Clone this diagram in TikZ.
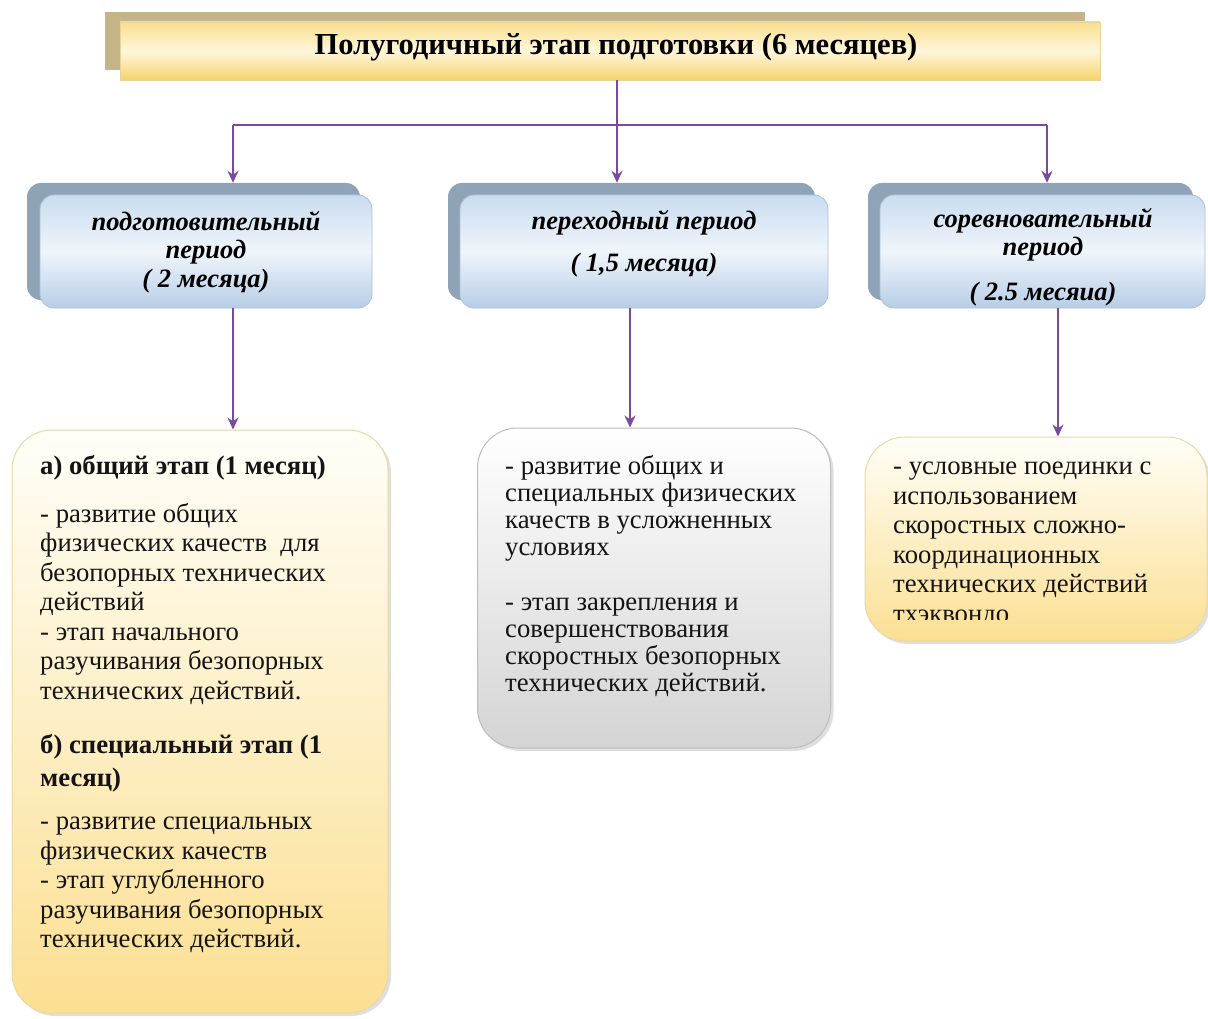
\documentclass[tikz,border=0pt]{standalone}
\usepackage{fontspec}
\setmainfont{Liberation Serif}
\usetikzlibrary{arrows.meta,shadows}
\definecolor{arrowc}{HTML}{7A4A9E}
\definecolor{titleback}{HTML}{C4B488}
\definecolor{titletop}{HTML}{F9DE8C}
\definecolor{titlemid}{HTML}{FFF7DC}
\definecolor{titlebot}{HTML}{F6D46C}
\definecolor{titleline}{HTML}{E6D49C}
\definecolor{perback}{HTML}{8FA3B6}
\definecolor{pertop}{HTML}{C9DCEF}
\definecolor{permid}{HTML}{F0F5FB}
\definecolor{perbot}{HTML}{B7CEE7}
\definecolor{perline}{HTML}{A9C0D7}
\definecolor{yeltop}{HTML}{FFFEF8}
\definecolor{yelbot}{HTML}{FBDF92}
\definecolor{yelline}{HTML}{E9D9A2}
\definecolor{graytop}{HTML}{FFFFFF}
\definecolor{graybot}{HTML}{D4D4D4}
\definecolor{grayline}{HTML}{BDBDBD}
\begin{document}
\begin{tikzpicture}[x=1pt,y=-1pt,
  conn/.style={draw=arrowc, line width=2.8pt},
  arr/.style={conn, -{Stealth[length=12pt,width=11pt]}},
  shadowbox/.style={fill=perback, rounded corners=14pt, inner sep=0pt},
  periodbox/.style={draw=perline, line width=0.8pt, rounded corners=14pt, inner sep=0pt,
     top color=pertop, bottom color=perbot, middle color=permid},
  periodtext/.style={font=\fontsize{26.5}{28.5}\selectfont\bfseries\itshape, align=center, inner sep=0pt, text=black},
  yelbox/.style={draw=yelline, line width=1pt, rounded corners=40pt, inner sep=0pt,
     top color=yeltop, bottom color=yelbot,
     drop shadow={shadow xshift=3pt, shadow yshift=-3pt, opacity=0.25, fill=black!50}},
  graybox/.style={draw=grayline, line width=1pt, rounded corners=40pt, inner sep=0pt,
     top color=graytop, bottom color=graybot,
     drop shadow={shadow xshift=3pt, shadow yshift=-3pt, opacity=0.25, fill=black!50}},
  body/.style={align=left, anchor=north west, inner sep=0pt, text=black!92},
]
\useasboundingbox (0,0) rectangle (1208,1019);
\fill[white] (0,0) rectangle (1208,1019);

% title
\node[fill=titleback, minimum width=980pt, minimum height=58pt, inner sep=0pt] (titleshadow) at (595,41) {};
\node[draw=titleline, line width=0.6pt, minimum width=980pt, minimum height=58pt, inner sep=0pt,
  top color=titletop, bottom color=titlebot, middle color=titlemid] (title) at (610,51) {};
\node[font=\fontsize{30.5}{32}\selectfont\bfseries, inner sep=0pt, text=black] (titletext) at (616,47) {Полугодичный этап подготовки (6 месяцев)};

% period boxes
\node[shadowbox, minimum width=333pt, minimum height=117pt] (p1s) at (193.5,241.5) {};
\node[periodbox, minimum width=332pt, minimum height=113pt] (p1) at (206,251.5) {};
\node[periodtext] (p1t) at (206,252) {подготовительный\\период\\( 2 месяца)};

\node[shadowbox, minimum width=367pt, minimum height=117pt] (p2s) at (631.5,241.5) {};
\node[periodbox, minimum width=368pt, minimum height=113pt] (p2) at (644,251.5) {};
\node[periodtext, font=\fontsize{26.5}{42}\selectfont\bfseries\itshape] (p2t) at (644,244) {переходный период\\( 1,5 месяца)};

\node[shadowbox, minimum width=325pt, minimum height=117pt] (p3s) at (1030.5,241.5) {};
\node[periodbox, minimum width=325pt, minimum height=113pt] (p3) at (1042.5,251.5) {};
\node[periodtext] (p3t) at (1043,257) {соревновательный\\период\\[16pt]( 2.5 месяиа)};

% lower boxes
\node[yelbox, minimum width=376pt, minimum height=583pt] (A) at (200,721.5) {};
\node[graybox, minimum width=353pt, minimum height=320pt] (B) at (654,588) {};
\node[yelbox, minimum width=342pt, minimum height=204pt] (C) at (1036,539) {};

\node[body, font=\fontsize{26.7}{29.5}\selectfont] (At) at (40,454) {%
\strut\textbf{а) общий этап (1 месяц)}\\[18pt]
- развитие общих\\
физических качеств\ \ для\\
безопорных технических\\
действий\\
- этап начального\\
разучивания безопорных\\
технических действий.\\[25pt]
\textbf{б) специальный этап (1}\\[3pt]
\textbf{месяц)}\\[14pt]
- развитие специальных\\
физических качеств\\
- этап углубленного\\
разучивания безопорных\\
технических действий.};

\node[body, font=\fontsize{26.7}{27.2}\selectfont] (Bt) at (505,455) {%
\strut- развитие общих и\\
специальных физических\\
качеств в усложненных\\
условиях\\[27.2pt]
- этап закрепления и\\
совершенствования\\
скоростных безопорных\\
технических действий.};

\begin{scope}
\clip (860,430) rectangle (1208,619);
\node[body, font=\fontsize{26.7}{29.5}\selectfont] (Ct) at (893,454) {%
\strut- условные поединки с\\
использованием\\
скоростных сложно-\\
координационных\\
технических действий\\
тхэквондо};
\end{scope}

% connectors
\coordinate (j) at (617,125);
\coordinate (jl) at (233,125);
\coordinate (jr) at (1047,125);
\draw[conn] (title.south -| j) -- (j);
\draw[conn] (jl) -- (jr);
\draw[arr] (jl) -- (jl |- p1s.north);
\draw[arr] (j) -- (j |- p2s.north);
\draw[arr] (jr) -- (jr |- p3s.north);

\coordinate (xa) at (233,0);
\coordinate (xb) at (630,0);
\coordinate (xc) at (1058,0);
\draw[arr] (p1.south -| xa) -- (A.north -| xa);
\draw[arr] (p2.south -| xb) -- (B.north -| xb);
\draw[arr] (p3.south -| xc) -- (C.north -| xc);
\end{tikzpicture}
\end{document}
